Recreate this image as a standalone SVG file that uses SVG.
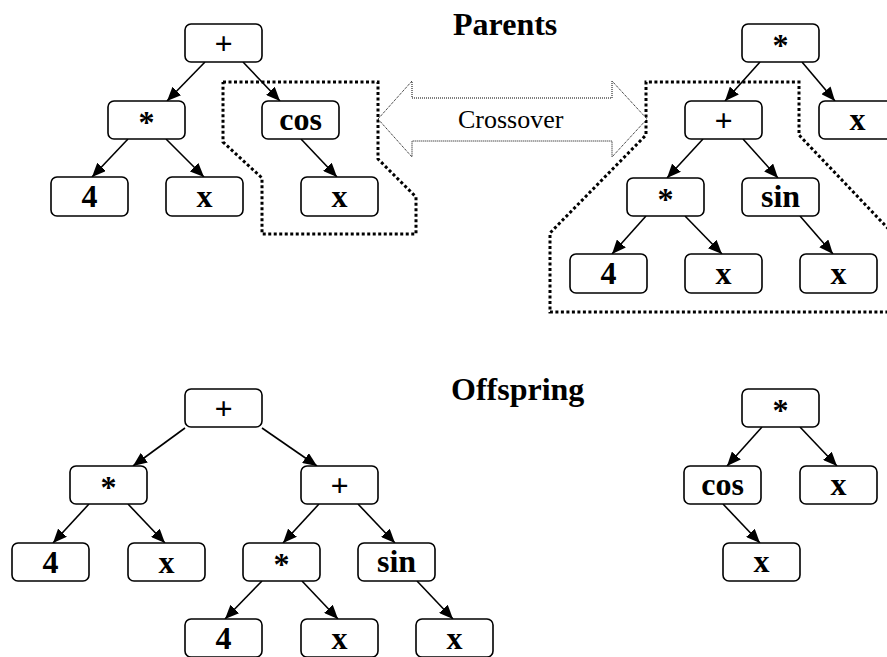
<svg xmlns="http://www.w3.org/2000/svg" width="887" height="657" viewBox="0 0 887 657">
  <style>
    .node rect { fill: #fff; stroke: #000; stroke-width: 1.6; }
    .node text { font-family: "Liberation Serif", "Times New Roman", serif; font-size: 32px; font-weight: bold; text-anchor: middle; fill: #000; }
    .edge { stroke: #000; stroke-width: 1.6; fill: none; marker-end: url(#arrow); }
    .title { font-family: "Liberation Serif", "Times New Roman", serif; font-size: 32px; font-weight: bold; fill: #000; }
    .region { fill: none; stroke: #000; stroke-width: 3; stroke-dasharray: 3 2.5; }
    .xover { fill: #fff; stroke: #000; stroke-width: 1; stroke-dasharray: 1 1; }
    .xover-label { font-family: "Liberation Serif", "Times New Roman", serif; font-size: 26px; fill: #000; }
  </style>
  <defs>
    <marker id="arrow" markerUnits="userSpaceOnUse" markerWidth="14" markerHeight="12" refX="14" refY="6" orient="auto">
      <path d="M0,0 L14,6 L0,12 z" fill="#000"/>
    </marker>
  </defs>

  <rect width="887" height="657" fill="#fff"/>

  <!-- titles -->
  <text class="title" x="453" y="35">Parents</text>
  <text class="title" x="451" y="400">Offspring</text>

  <!-- subtrees chosen for exchange -->
  <polyline class="region" points="223,82 378,82 378,159 416,197 416,234 262,234 262,178 223,142 223,82"/>
  <polyline class="region" points="900,241 799,135 799,82 646,82 646,135 550,233 550,312 900,312"/>

  <!-- crossover double arrow -->
  <g id="crossover">
    <polygon class="xover" points="378,119 412,81 412,98 612,98 612,81 647,119 612,157 612,141 412,141 412,157"/>
    <text class="xover-label" x="458" y="128">Crossover</text>
  </g>

  <!-- connectors -->
  <g id="edges">
    <!-- parent 1 -->
    <line class="edge" x1="205" y1="62" x2="167" y2="101"/>
    <line class="edge" x1="243" y1="62" x2="280" y2="101"/>
    <line class="edge" x1="128" y1="139" x2="92" y2="177"/>
    <line class="edge" x1="166" y1="139" x2="204" y2="177"/>
    <line class="edge" x1="301" y1="139" x2="337" y2="177"/>
    <!-- parent 2 -->
    <line class="edge" x1="760" y1="62" x2="725" y2="101"/>
    <line class="edge" x1="802" y1="62" x2="835" y2="101"/>
    <line class="edge" x1="703" y1="139" x2="667" y2="178"/>
    <line class="edge" x1="743" y1="139" x2="778" y2="178"/>
    <line class="edge" x1="646" y1="216" x2="612" y2="254"/>
    <line class="edge" x1="685" y1="216" x2="722" y2="254"/>
    <line class="edge" x1="800" y1="216" x2="833" y2="254"/>
    <!-- offspring 1 -->
    <line class="edge" x1="185" y1="428" x2="133" y2="466"/>
    <line class="edge" x1="262" y1="428" x2="317" y2="466"/>
    <line class="edge" x1="89" y1="504" x2="53" y2="543"/>
    <line class="edge" x1="128" y1="504" x2="165" y2="543"/>
    <line class="edge" x1="319" y1="504" x2="283" y2="543"/>
    <line class="edge" x1="358" y1="504" x2="395" y2="543"/>
    <line class="edge" x1="262" y1="581" x2="225" y2="619"/>
    <line class="edge" x1="302" y1="581" x2="338" y2="619"/>
    <line class="edge" x1="417" y1="581" x2="453" y2="619"/>
    <!-- offspring 2 -->
    <line class="edge" x1="762" y1="427" x2="727" y2="466"/>
    <line class="edge" x1="800" y1="427" x2="837" y2="466"/>
    <line class="edge" x1="723" y1="504" x2="760" y2="543"/>
  </g>

  <!-- parent 1 nodes -->
  <g id="p1-plus" class="node"><rect x="185" y="24" width="77" height="38" rx="6"/><text x="223.5" y="54">+</text></g>
  <g id="p1-mul" class="node"><rect x="108" y="101" width="77" height="38" rx="6"/><text x="146.5" y="133">*</text></g>
  <g id="p1-cos" class="node"><rect x="262" y="101" width="77" height="38" rx="6"/><text x="300.5" y="130">cos</text></g>
  <g id="p1-4" class="node"><rect x="51" y="177" width="77" height="39" rx="6"/><text x="89.5" y="207">4</text></g>
  <g id="p1-x1" class="node"><rect x="166" y="177" width="77" height="39" rx="6"/><text x="204.5" y="207">x</text></g>
  <g id="p1-x2" class="node"><rect x="301" y="177" width="77" height="39" rx="6"/><text x="339.5" y="207">x</text></g>

  <!-- parent 2 nodes -->
  <g id="p2-mul" class="node"><rect x="742" y="24" width="77" height="38" rx="6"/><text x="780.5" y="56">*</text></g>
  <g id="p2-plus" class="node"><rect x="685" y="101" width="77" height="38" rx="6"/><text x="723.5" y="131">+</text></g>
  <g id="p2-x1" class="node"><rect x="819" y="101" width="77" height="38" rx="6"/><text x="857.5" y="130">x</text></g>
  <g id="p2-mul2" class="node"><rect x="627" y="178" width="77" height="38" rx="6"/><text x="665.5" y="210">*</text></g>
  <g id="p2-sin" class="node"><rect x="742" y="178" width="77" height="38" rx="6"/><text x="780.5" y="207">sin</text></g>
  <g id="p2-4" class="node"><rect x="570" y="254" width="77" height="39" rx="6"/><text x="608.5" y="284">4</text></g>
  <g id="p2-x2" class="node"><rect x="685" y="254" width="77" height="39" rx="6"/><text x="723.5" y="284">x</text></g>
  <g id="p2-x3" class="node"><rect x="800" y="254" width="77" height="39" rx="6"/><text x="838.5" y="284">x</text></g>

  <!-- offspring 1 nodes -->
  <g id="o1-plus" class="node"><rect x="185" y="389" width="77" height="38" rx="6"/><text x="223.5" y="419">+</text></g>
  <g id="o1-mul" class="node"><rect x="70" y="466" width="77" height="38" rx="6"/><text x="108.5" y="498">*</text></g>
  <g id="o1-plus2" class="node"><rect x="301" y="466" width="77" height="38" rx="6"/><text x="339.5" y="496">+</text></g>
  <g id="o1-4" class="node"><rect x="12" y="543" width="77" height="38" rx="6"/><text x="50.5" y="573">4</text></g>
  <g id="o1-x1" class="node"><rect x="128" y="543" width="77" height="38" rx="6"/><text x="166.5" y="573">x</text></g>
  <g id="o1-mul2" class="node"><rect x="243" y="543" width="77" height="38" rx="6"/><text x="281.5" y="575">*</text></g>
  <g id="o1-sin" class="node"><rect x="358" y="543" width="77" height="38" rx="6"/><text x="396.5" y="572">sin</text></g>
  <g id="o1-4b" class="node"><rect x="185" y="619" width="77" height="38" rx="6"/><text x="223.5" y="649">4</text></g>
  <g id="o1-x2" class="node"><rect x="301" y="619" width="77" height="38" rx="6"/><text x="339.5" y="649">x</text></g>
  <g id="o1-x3" class="node"><rect x="416" y="619" width="77" height="38" rx="6"/><text x="454.5" y="649">x</text></g>

  <!-- offspring 2 nodes -->
  <g id="o2-mul" class="node"><rect x="742" y="389" width="77" height="38" rx="6"/><text x="780.5" y="421">*</text></g>
  <g id="o2-cos" class="node"><rect x="684" y="466" width="77" height="38" rx="6"/><text x="722.5" y="495">cos</text></g>
  <g id="o2-x1" class="node"><rect x="800" y="466" width="77" height="38" rx="6"/><text x="838.5" y="495">x</text></g>
  <g id="o2-x2" class="node"><rect x="723" y="543" width="77" height="38" rx="6"/><text x="761.5" y="572">x</text></g>
</svg>
